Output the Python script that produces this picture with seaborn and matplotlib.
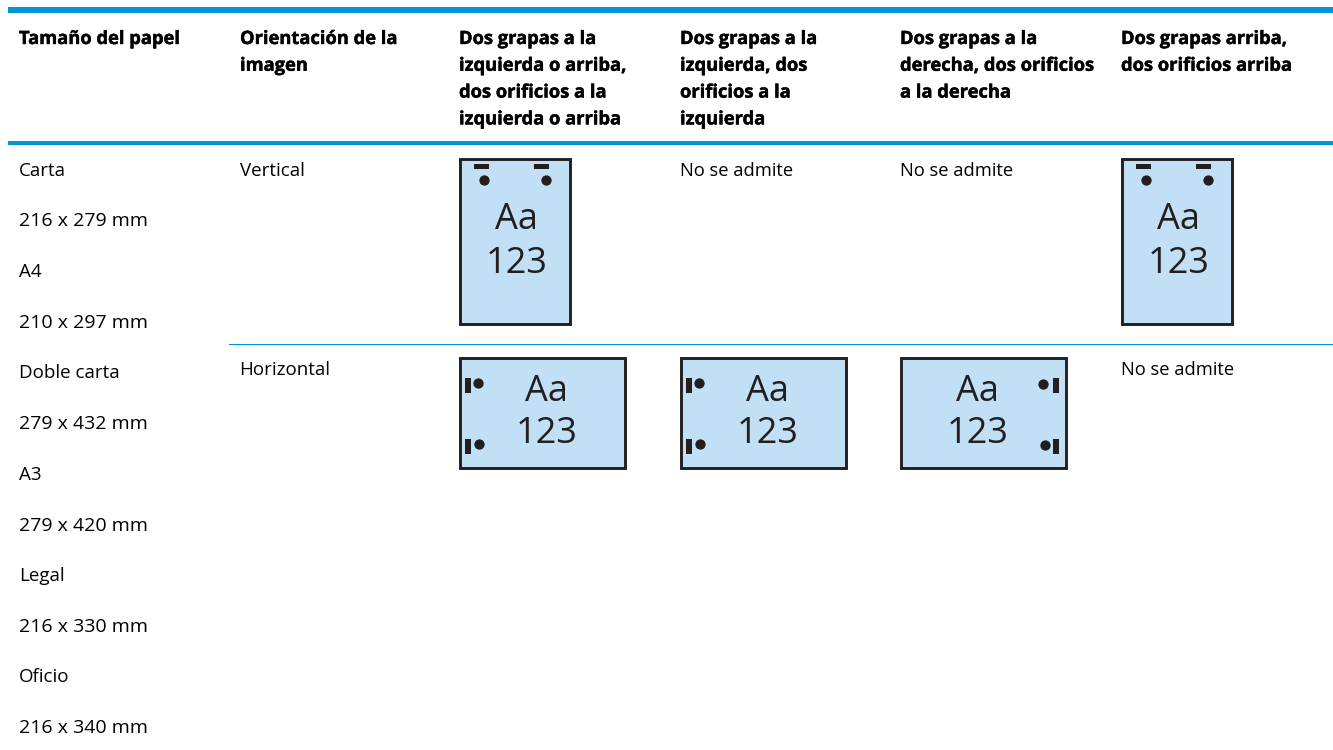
import pandas as pd
import matplotlib
matplotlib.use('Agg')
import matplotlib.pyplot as plt
import matplotlib.patheffects as pe
from matplotlib.patches import Rectangle
import seaborn as sns

headers = ['Tamaño del papel', 'Orientación de la\nimagen',
           'Dos grapas a la\nizquierda o arriba,\ndos orificios a la\nizquierda o arriba',
           'Dos grapas a la\nizquierda, dos\norificios a la\nizquierda',
           'Dos grapas a la\nderecha, dos orificios\na la derecha',
           'Dos grapas arriba,\ndos orificios arriba']
sizes = ['Carta', '216 x 279 mm', 'A4', '210 x 297 mm', 'Doble carta', '279 x 432 mm',
         'A3', '279 x 420 mm', 'Legal', '216 x 330 mm', 'Oficio', '216 x 340 mm']
orientations = ['Vertical', 'Horizontal']
not_supported = 'No se admite'
icon_lines = ['Aa', '123']

BLUE = '#0096D6'
INK = '#231F20'
PAPER = '#C2E0F5'
FONT = ['Open Sans', 'DejaVu Sans']

col_x = [19, 240, 459, 680, 900, 1121]
size_y = [176, 226, 277, 328, 378, 429, 480, 531, 581, 632, 682, 733]

sns.set_theme(style='white')
plt.rcParams['font.family'] = FONT

fig, ax = plt.subplots(figsize=(13.33, 7.5), dpi=100)
ax.set_position([0, 0, 1, 1])
ax.set_xlim(0, 1333)
ax.set_ylim(750, 0)
ax.axis('off')

# rules
ax.add_patch(Rectangle((8, 7), 1325, 6, color=BLUE, lw=0))
ax.add_patch(Rectangle((8, 141), 1325, 4, color=BLUE, lw=0))
ax.add_patch(Rectangle((229, 344), 1104, 1.4, color=BLUE, lw=0))

# header, one text per line so the baselines stay put
# thin stroke because the original face is heavier than Open Sans bold
for x, h in zip(col_x, headers):
    for i, line in enumerate(h.split('\n')):
        ax.text(x, 44 + 26.8 * i, line, fontsize=13.2, fontweight='bold', color='black',
                va='baseline', path_effects=[pe.withStroke(linewidth=0.3, foreground='black')])

# body text, the digit rows run a bit wider than the names
for i, (y, s) in enumerate(zip(size_y, sizes)):
    ax.text(19, y, s, fontsize=14 if i % 2 else 13.5, color='black', va='baseline')
ax.text(240, 176, orientations[0], fontsize=13.5, color='black', va='baseline')
ax.text(239, 375, orientations[1], fontsize=13.5, color='black', va='baseline')
for x, y in [(680, 176), (900, 176), (1121, 375)]:
    ax.text(x, y, not_supported, fontsize=13.2, color='black', va='baseline')

holes = []


def icon(x0, y0, w, h, tx, y1, y2):
    ax.add_patch(Rectangle((x0 + 1.4, y0 + 1.4), w - 2.8, h - 2.8, fc=PAPER, ec=INK, lw=2.1))
    ax.text(tx, y1, icon_lines[0], fontsize=26, color=INK, ha='center', va='center')
    ax.text(tx, y2, icon_lines[1], fontsize=26, color=INK, ha='center', va='center')


def staple(x, y, w, h):
    ax.add_patch(Rectangle((x, y), w, h, color=INK, lw=0))


# portrait icons
for x0 in [459, 1121]:
    icon(x0, 158, 112, 167, x0 + 57.5, 220, 264)
    staple(x0 + 15, 164, 15, 5)
    staple(x0 + 75, 164, 15, 5)
    holes += [(x0 + 25, 180), (x0 + 87, 180)]

# landscape icons, holes on the left
for x0 in [459, 680]:
    icon(x0, 357, 167, 112, x0 + 87.5, 392, 434)
    staple(x0 + 6, 378, 5.5, 15)
    staple(x0 + 6, 439, 5.5, 15)
    holes += [(x0 + 19, 382.5), (x0 + 20, 444)]

# landscape icon, holes on the right
icon(900, 357, 167, 112, 978, 392, 434)
staple(1053, 378, 5.5, 15)
staple(1053, 439, 5.5, 15)
holes += [(1043, 384), (1045, 445)]

hole_df = pd.DataFrame(holes, columns=['x', 'y'])
sns.scatterplot(data=hole_df, x='x', y='y', color=INK, s=55, linewidth=0, ax=ax, zorder=5)
ax.set_xlim(0, 1333)
ax.set_ylim(750, 0)
ax.axis('off')

fig.savefig('out.png', dpi=100)
